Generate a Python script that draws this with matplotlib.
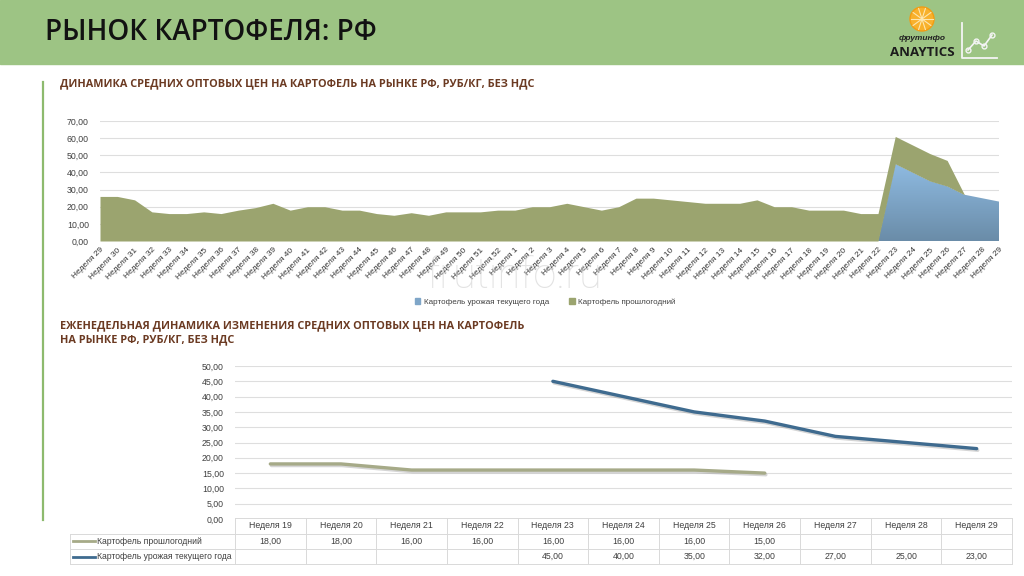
import matplotlib
matplotlib.use("Agg")
import matplotlib.pyplot as plt
import matplotlib.patheffects as pe
from matplotlib.patches import Rectangle, Circle, Patch
from matplotlib.lines import Line2D
from matplotlib.colors import LinearSegmentedColormap
import numpy as np

plt.rcParams['font.family'] = ['Liberation Sans', 'DejaVu Sans']

# ---- data: top chart (stacked area), weeks 29..52, 1..29
weeks_top = ["Неделя %d" % w for w in list(range(29, 53)) + list(range(1, 30))]
last_year_top = [26, 26, 24, 17, 16, 16, 17, 16, 18, 19.5, 22, 18, 20, 20, 18, 18,
                 16, 15, 16.5, 15, 17, 17, 17, 18,
                 18, 20, 20, 22, 20, 18, 20, 25, 25, 24, 23, 22, 22, 22, 24, 20,
                 20, 18, 18, 18, 16, 16, 16, 16, 16, 15, None, None, None]
current_top = [None] * 45 + [0, 45, 40, 35, 32, 27, 25, 23]

# ---- data: bottom chart (lines + data table), weeks 19..29
weeks_bot = ["Неделя %d" % w for w in range(19, 30)]
last_year_bot = [18, 18, 16, 16, 16, 16, 16, 15, None, None, None]
current_bot = [None, None, None, None, 45, 40, 35, 32, 27, 25, 23]

name_cur = "Картофель урожая текущего года"
name_last = "Картофель прошлогодний"

W, H = 1024, 576
fig = plt.figure(figsize=(W / 100, H / 100), dpi=100)


def px(x0, y0, x1, y1):
    return [x0 / W, 1 - y1 / H, (x1 - x0) / W, (y1 - y0) / H]


def fmt(v):
    return "" if v is None else ("%.2f" % v).replace(".", ",")


txt = '#404040'
olive_area = '#9ba46f'
olive_line = '#a6aa88'
blue_line = '#3f6b8f'

# header band
fig.patches.append(Rectangle((0, 1 - 64 / H), 1, 64 / H, transform=fig.transFigure,
                             color='#9dc484', zorder=-5))
fig.text(45 / W, 1 - 33 / H, "РЫНОК КАРТОФЕЛЯ: РФ", fontsize=20, fontweight='semibold',
         family='Open Sans', color='#121212', va='center')

# logo
lg = fig.add_axes(px(880, 0, 1024, 64))
lg.set_xlim(880, 1024)
lg.set_ylim(64, 0)
lg.axis('off')
lg.add_patch(Circle((922, 19), 12, facecolor='#f8b12c', edgecolor='#f39c12', lw=1))
for a in np.linspace(0, np.pi, 6)[:-1]:
    lg.plot([922 - 11 * np.cos(a), 922 + 11 * np.cos(a)],
            [19 - 11 * np.sin(a), 19 + 11 * np.sin(a)], color='#fde7b0', lw=0.8)
lg.text(922, 38, "фрутинфо", fontsize=6, fontweight='bold', style='italic',
        ha='center', va='center', color='#222222')
lg.text(922, 52, "ANAYTICS", fontsize=9.5, fontweight='bold', family='Open Sans',
        ha='center', va='center', color='#1c1c1c')
lg.plot([962, 962, 997], [23, 58, 58], color='#f4f4f4', lw=1.3)
lg.plot([968, 976, 984, 992], [50, 41, 46, 35], color='#f4f4f4', lw=1.2,
        marker='o', ms=3.5, mfc='none', mec='#f4f4f4')

# left accent line
fig.add_artist(Line2D([43 / W, 43 / W], [1 - 82 / H, 1 - 520 / H], color='#8dba6e', lw=1.6))

sub_col = '#6b3a22'
fig.text(60 / W, 1 - 84 / H, "ДИНАМИКА СРЕДНИХ ОПТОВЫХ ЦЕН НА КАРТОФЕЛЬ НА РЫНКЕ РФ, РУБ/КГ, БЕЗ НДС",
         fontsize=7.8, fontweight='bold', family='Open Sans', color=sub_col, va='center')
fig.text(60 / W, 1 - 326 / H, "ЕЖЕНЕДЕЛЬНАЯ ДИНАМИКА ИЗМЕНЕНИЯ СРЕДНИХ ОПТОВЫХ ЦЕН НА КАРТОФЕЛЬ",
         fontsize=7.8, fontweight='bold', family='Open Sans', color=sub_col, va='center')
fig.text(60 / W, 1 - 340 / H, "НА РЫНКЕ РФ, РУБ/КГ, БЕЗ НДС",
         fontsize=7.8, fontweight='bold', family='Open Sans', color=sub_col, va='center')

# ---- top chart
ax = fig.add_axes(px(100, 121, 999, 241))
x = np.arange(len(weeks_top))
cur = np.array([0 if v is None else v for v in current_top], dtype=float)
last = np.array([0 if v is None else v for v in last_year_top], dtype=float)
poly = ax.fill_between(x, 0, cur, color='none', lw=0)
grad = np.linspace(0, 1, 256).reshape(-1, 1)
cmap = LinearSegmentedColormap.from_list('b', ['#6a8ca8', '#8fbbe2'])
im = ax.imshow(grad, cmap=cmap, origin='lower', aspect='auto',
               extent=[0, len(x) - 1, 0, cur.max()], zorder=2)
im.set_clip_path(poly.get_paths()[0], transform=ax.transData)
ax.fill_between(x, cur, cur + last, color=olive_area, lw=0, zorder=2)
ax.set_xlim(0, len(x) - 1)
ax.set_ylim(0, 70)
ax.set_yticks(range(0, 71, 10))
ax.set_yticklabels([fmt(v) for v in range(0, 71, 10)])
ax.set_xticks(x)
ax.set_xticklabels(weeks_top, rotation=45, ha='right', va='top', rotation_mode='anchor')
ax.tick_params(axis='x', length=0, labelsize=6, labelcolor='#333333', pad=4)
ax.tick_params(axis='y', length=0, labelsize=6.3, labelcolor=txt, pad=8)
ax.grid(axis='y', color='#dedede', lw=0.8)
ax.set_axisbelow(True)
for s in ax.spines.values():
    s.set_visible(False)

fig.legend(handles=[Patch(color='#7fa6c8', label=name_cur),
                    Patch(color=olive_area, label=name_last)],
           loc='center', bbox_to_anchor=(545 / W, 1 - 302 / H), ncol=2, frameon=False,
           fontsize=5.8, handlelength=0.7, handleheight=0.7, handletextpad=0.4,
           columnspacing=2.5, labelcolor=txt)

# watermark
fig.text(514 / W, 1 - 276 / H, "frutinfo.ru", fontsize=30, family='Roboto', fontweight='light',
         color='#d0d0d0', alpha=0.6, ha='center', va='center', zorder=10)

# ---- bottom chart
ax2 = fig.add_axes(px(235, 366, 1012, 519))
xb = np.arange(len(weeks_bot))
yl = np.array([np.nan if v is None else v for v in last_year_bot], dtype=float)
yc = np.array([np.nan if v is None else v for v in current_bot], dtype=float)
shadow = [pe.SimpleLineShadow(offset=(0.8, -1.2), shadow_color='#888888', alpha=0.35), pe.Normal()]
ax2.plot(xb, yl, color=olive_line, lw=2.4, solid_capstyle='round', path_effects=shadow)
ax2.plot(xb, yc, color=blue_line, lw=2.4, solid_capstyle='round', path_effects=shadow)
ax2.set_xlim(-0.5, len(xb) - 0.5)
ax2.set_ylim(0, 50)
ax2.set_yticks(range(0, 51, 5))
ax2.set_yticklabels([fmt(v) for v in range(0, 51, 5)])
ax2.set_xticks([])
ax2.tick_params(axis='y', length=0, labelsize=6.3, labelcolor=txt, pad=8)
ax2.grid(axis='y', color='#dedede', lw=0.8)
ax2.set_axisbelow(True)
for s in ax2.spines.values():
    s.set_visible(False)

# data table under the bottom chart
tb = fig.add_axes(px(60, 516, 1014, 566))
tb.set_xlim(60, 1014)
tb.set_ylim(566, 516)
tb.axis('off')
x0, x1, lab0 = 235, 1012, 70
cw = (x1 - x0) / len(weeks_bot)
rows = [518, 533.5, 549, 564]
bc = '#d9d9d9'
tb.plot([x0, x1], [rows[0], rows[0]], color=bc, lw=0.7)
for r in rows[1:]:
    tb.plot([lab0, x1], [r, r], color=bc, lw=0.7)
tb.plot([lab0, lab0], [rows[1], rows[3]], color=bc, lw=0.7)
for k in range(len(weeks_bot) + 1):
    tb.plot([x0 + k * cw] * 2, [rows[0], rows[3]], color=bc, lw=0.7)
for k, wk in enumerate(weeks_bot):
    cx = x0 + (k + 0.5) * cw
    tb.text(cx, (rows[0] + rows[1]) / 2, wk, fontsize=6.3, color=txt, ha='center', va='center')
    tb.text(cx, (rows[1] + rows[2]) / 2, fmt(last_year_bot[k]), fontsize=6.3, color=txt,
            ha='center', va='center')
    tb.text(cx, (rows[2] + rows[3]) / 2, fmt(current_bot[k]), fontsize=6.3, color=txt,
            ha='center', va='center')
for (r0, r1), nm, c in [((rows[1], rows[2]), name_last, olive_line),
                        ((rows[2], rows[3]), name_cur, blue_line)]:
    yc_ = (r0 + r1) / 2
    tb.plot([73, 95], [yc_, yc_], color=c, lw=2)
    tb.text(97, yc_, nm, fontsize=6.2, color=txt, ha='left', va='center')

fig.savefig("out.png", dpi=100)
